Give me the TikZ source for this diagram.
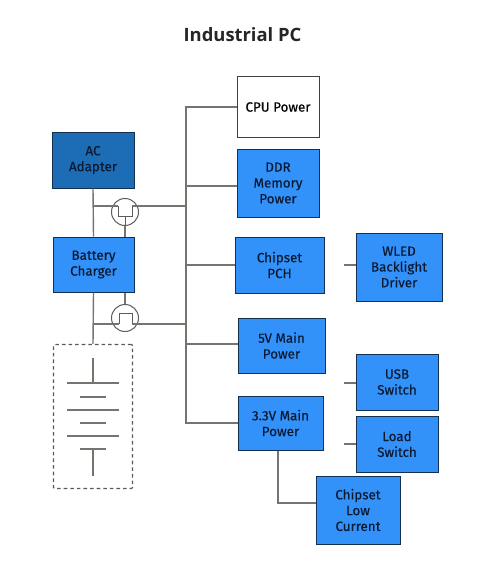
\documentclass[tikz,border=0pt]{standalone}
\usepackage{fontspec}
\setmainfont[FakeBold=0.35]{Fira Sans}
\newfontfamily\titlefont{Open Sans}
\usetikzlibrary{positioning}
\definecolor{boxblue}{HTML}{3391FA}
\definecolor{acblue}{HTML}{1C6DB5}
\definecolor{boxedge}{HTML}{14304F}
\definecolor{wiregray}{HTML}{77736F}
\definecolor{textnavy}{HTML}{0B1A33}
\tikzset{
  blockbox/.style={draw=boxedge,fill=boxblue,line width=1pt,align=center,inner sep=0pt,text=textnavy,font=\fontsize{13.4}{15.8}\selectfont},
  wire/.style={draw=wiregray,line width=1.4pt},
  fetwire/.style={draw=wiregray!80!black,line width=.8pt},
  fetcircle/.style={circle,draw=wiregray!80!black,line width=1pt,minimum size=27pt,inner sep=0pt}
}
\begin{document}
\begin{tikzpicture}[x=1pt,y=-1pt,line cap=butt,line join=miter]
\useasboundingbox (0,0) rectangle (493,575);
\node[font=\titlefont\bfseries\fontsize{18.4}{20}\selectfont,text=black!85] (title) at (242.5,35) {Industrial PC};
\node[blockbox,fill=acblue,minimum width=82pt,minimum height=56pt] (ac) at (93,160) {AC\\Adapter};
\node[blockbox,minimum width=81pt,minimum height=55pt] (charger) at (93.5,264.5) {Battery\\Charger};
\node[blockbox,fill=white,draw=black!75,text=black,minimum width=82pt,minimum height=60pt] (cpu) at (278,107) {CPU Power};
\node[blockbox,minimum width=82pt,minimum height=68pt] (ddr) at (278,183) {DDR\\Memory\\Power};
\node[blockbox,minimum width=89pt,minimum height=56pt] (pch) at (279.5,265) {Chipset\\PCH};
\node[blockbox,minimum width=86pt,minimum height=68pt] (wled) at (399,267) {WLED\\Backlight\\Driver};
\node[blockbox,minimum width=87pt,minimum height=55pt] (five) at (281.5,345.5) {5V Main\\Power};
\node[blockbox,minimum width=85pt,minimum height=54pt] (three) at (280.5,423) {3.3V Main\\Power};
\node[blockbox,minimum width=82pt,minimum height=56pt] (usb) at (397,382) {USB\\Switch};
\node[blockbox,minimum width=82pt,minimum height=56pt] (load) at (397,444) {Load\\Switch};
\node[blockbox,minimum width=84pt,minimum height=68pt] (low) at (358,510) {Chipset\\Low\\Current};
\node[fetcircle] (fetA) at (125,212) {};
\node[fetcircle] (fetB) at (125,318) {};
\node[draw=black!65,dash pattern=on 3.6pt off 3pt,line width=1.4pt,minimum width=79pt,minimum height=144pt,inner sep=0pt,rounded corners=1pt] (pack) at (93,416.5) {};
\coordinate (busT) at (186,107);
\coordinate (busB) at (186,423);
\coordinate (tapA) at (93,206);
\coordinate (tapB) at (93,324);
\coordinate (legAl) at (118,206);
\coordinate (legAr) at (132,206);
\coordinate (legBl) at (119,324);
\coordinate (legBr) at (132,324);
\coordinate (ddrS) at (186,186);
\coordinate (fiveS) at (186,344);
\coordinate (usbS) at (344,383);
\coordinate (loadS) at (344,444);
\coordinate (wledS) at (344,265);
\coordinate (bend) at (278,503);
% bus and feeds
\draw[wire] (cpu.west) -- (busT) -- (busB) -- (three.west);
\draw[wire] (ddrS) -- (ddr.west |- ddrS);
\draw[wire] (busT |- pch.west) -- (pch.west);
\draw[wire] (fiveS) -- (five.west |- fiveS);
\draw[wire] (ac.south) -- (charger.north);
\draw[wire] (charger.south) -- (pack.north);
\draw[wire] (tapA) -- (legAl);
\draw[wire] (legAr) -- (busT |- legAr);
\draw[wire] (tapB) -- (legBl);
\draw[wire] (legBr) -- (busT |- legBr);
\draw[wire] (fetA.south) -- (fetA |- charger.north);
\draw[wire] (fetB |- charger.south) -- (fetB.north);
\draw[wire] (wledS) -- (wled.west |- wledS);
\draw[wire] (usbS) -- (usb.west |- usbS);
\draw[wire] (loadS) -- (load.west |- loadS);
\draw[wire] (bend |- three.south) -- (bend) -- (low.west |- bend);
% fet symbols
\draw[fetwire] (legAl) -- (118,216) -- (132,216) -- (legAr);
\draw[fetwire] (125,216) -- (fetA.south);
\draw[fetwire] (legBl) -- (119,313) -- (132,313) -- (legBr);
% battery cells
\draw[wire] (93,358) -- (93,383);
\draw[wire] (67,383) -- (119,383);
\draw[wire] (80,397) -- (106,397);
\draw[wire] (67,410) -- (119,410);
\draw[wire] (80,423) -- (106,423);
\draw[wire] (67,436) -- (119,436);
\draw[wire] (80,449) -- (106,449);
\draw[wire] (93,449) -- (93,476);
\end{tikzpicture}
\end{document}
